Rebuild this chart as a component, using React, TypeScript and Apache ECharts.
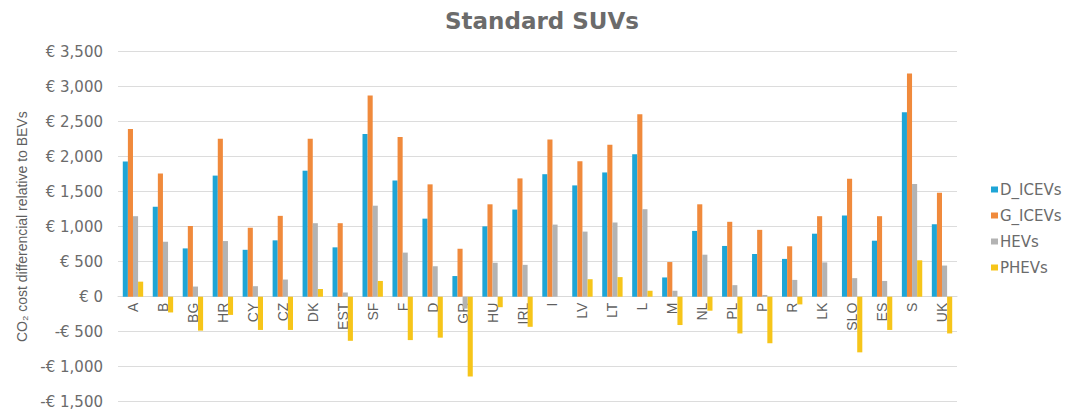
import React, { useEffect, useRef } from "react";
import * as echarts from "echarts";

const categories = ["A", "B", "BG", "HR", "CY", "CZ", "DK", "EST", "SF", "F", "D", "GR", "HU", "IRL", "I", "LV", "LT", "L", "M", "NL", "PL", "P", "R", "LK", "SLO", "ES", "S", "UK"];
const dIcevs = [1930, 1285, 690, 1730, 670, 805, 1800, 705, 2325, 1660, 1115, 295, 1005, 1245, 1750, 1590, 1775, 2035, 275, 940, 725, 610, 540, 900, 1160, 800, 2635, 1035];
const gIcevs = [2395, 1760, 1010, 2255, 985, 1155, 2255, 1050, 2875, 2280, 1605, 685, 1320, 1690, 2245, 1935, 2170, 2605, 495, 1320, 1070, 955, 720, 1150, 1685, 1150, 3190, 1485];
const hevs = [1150, 785, 145, 795, 150, 245, 1050, 60, 1300, 630, 435, -170, 485, 455, 1030, 930, 1060, 1250, 85, 600, 165, 25, 240, 490, 265, 225, 1610, 445];
const phevs = [215, -225, -485, -260, -475, -475, 110, -630, 225, -620, -585, -1140, -150, -430, 0, 250, 280, 85, -405, -200, -525, -665, -110, 0, -795, -475, 520, -525];
const seriesNames = ["D_ICEVs", "G_ICEVs", "HEVs", "PHEVs"];
const colors = ["#1ea5d6", "#f08a3c", "#b3b3b3", "#f6c51a"];

const Y_MIN = -1500;
const Y_MAX = 3500;
const GRID_TOP = 51.7;
const GRID_BOTTOM = 12.3;
const GRID_H = 414 - GRID_TOP - GRID_BOTTOM;

function fmt(v: number): string {
  const a = Math.abs(v).toLocaleString("en-US");
  return (v < 0 ? "-€ " : "€ ") + a;
}

export default function App() {
  const ref = useRef<HTMLDivElement>(null);
  useEffect(() => {
    if (!ref.current) return;
    const chart = echarts.init(ref.current, undefined, { renderer: "svg" });
    const data = [dIcevs, gIcevs, hevs, phevs];
    const zeroOffset = -GRID_H * (0 - Y_MIN) / (Y_MAX - Y_MIN);
    chart.setOption({
      animation: false,
      color: colors,
      title: {
        text: "Standard SUVs",
        left: "center",
        top: 4,
        textStyle: { fontFamily: "DejaVu Sans", fontWeight: "bold", fontSize: 23, color: "#6b6b6b" },
      },
      legend: {
        orient: "vertical",
        left: 986,
        top: 177,
        itemWidth: 7,
        itemHeight: 6,
        itemGap: 11,
        icon: "rect",
        data: seriesNames,
        textStyle: { fontFamily: "DejaVu Sans", fontSize: 15, color: "#6b6b6b", padding: [0, 0, 0, -3] },
      },
      grid: { left: 118, right: 127, top: GRID_TOP, bottom: GRID_BOTTOM, containLabel: false, outerBoundsMode: "none" },
      xAxis: {
        type: "category",
        data: categories,
        offset: zeroOffset,
        axisTick: { show: false },
        axisLine: { onZero: false, lineStyle: { color: "#d9d9d9" } },
        axisLabel: {
          rotate: 90,
          interval: 0,
          margin: 6,
          fontFamily: "Liberation Sans",
          fontSize: 14,
          color: "#5f5f5f",
        },
      },
      yAxis: {
        type: "value",
        min: Y_MIN,
        max: Y_MAX,
        interval: 500,
        name: "CO₂ cost differencial relative to BEVs",
        nameLocation: "middle",
        nameGap: 86,
        nameRotate: 90,
        nameTextStyle: { fontFamily: "Liberation Sans", fontSize: 14, color: "#5f5f5f" },
        axisLine: { show: false },
        axisTick: { show: false },
        splitLine: { lineStyle: { color: "#dcdcdc" } },
        axisLabel: {
          formatter: (v: number) => fmt(v),
          margin: 15,
          fontFamily: "DejaVu Sans",
          fontSize: 15,
          color: "#6b6b6b",
        },
      },
      series: seriesNames.map((n, i) => ({
        name: n,
        type: "bar",
        data: data[i],
        barGap: "0%",
        barCategoryGap: "32%",
        itemStyle: { color: colors[i] },
      })),
    });
    return () => chart.dispose();
  }, []);
  return <div ref={ref} style={{ width: 1084, height: 414, marginLeft: -8, marginTop: -8 }} />;
}
